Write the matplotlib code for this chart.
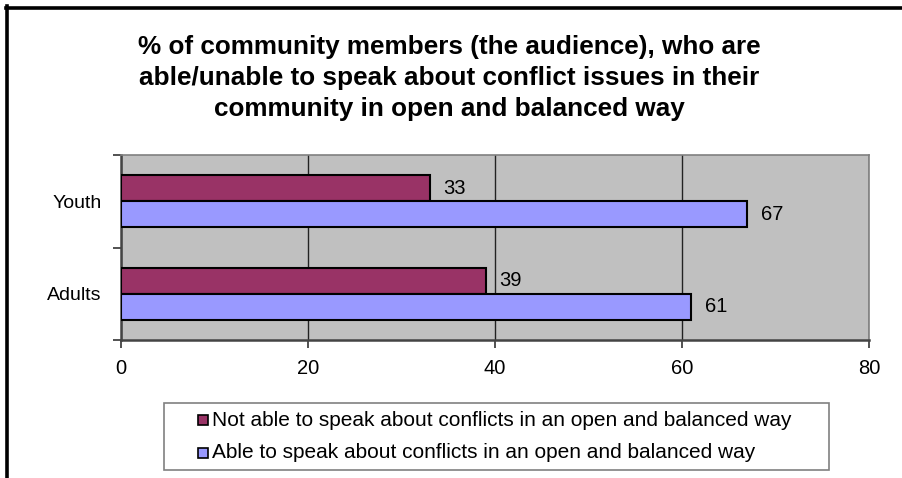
import matplotlib
matplotlib.use("Agg")
import matplotlib.pyplot as plt
from matplotlib.lines import Line2D
from matplotlib.patches import Rectangle
import numpy as np

plt.rcParams['font.family'] = ['Liberation Sans', 'DejaVu Sans']

categories = ["Adults", "Youth"]
not_able = [39, 33]
able = [61, 67]
series_labels = ["Not able to speak about conflicts in an open and balanced way",
                 "Able to speak about conflicts in an open and balanced way"]
x_ticks = [0, 20, 40, 60, 80]
title = ("% of community members (the audience), who are\n"
         "able/unable to speak about conflict issues in their\n"
         "community in open and balanced way")

red = "#993366"
blue = "#9999FF"

W, H = 902, 478
fig = plt.figure(figsize=(W / 100, H / 100), dpi=100)

def fx(px):
    return px / W

def fy(py):
    return 1 - py / H

ax = fig.add_axes([fx(121), fy(340), (869 - 121) / W, (340 - 155) / H])
ax.set_facecolor("#C0C0C0")

y = np.arange(len(categories))
bh = 0.28
b1 = ax.barh(y + bh / 2, not_able, height=bh, color=red, edgecolor="black", linewidth=1.5, zorder=3)
b2 = ax.barh(y - bh / 2, able, height=bh, color=blue, edgecolor="black", linewidth=1.5, zorder=3)

for bars, vals in ((b1, not_able), (b2, able)):
    for rect, v in zip(bars, vals):
        ax.annotate(f"{v}", (v, rect.get_y() + rect.get_height() / 2),
                    xytext=(9.5, 0), textcoords="offset points",
                    ha="left", va="center", fontsize=14.5, color="black")

ax.set_xlim(0, 80)
ax.set_ylim(-0.5, 1.5)
ax.set_xticks(x_ticks)
ax.set_xticklabels([str(t) for t in x_ticks], fontsize=14.5)
ax.set_yticks(y)
ax.set_yticklabels(categories, fontsize=14)
ax.set_yticks([-0.5, 0.5, 1.5], minor=True)
ax.tick_params(axis="y", which="major", length=0, pad=14)
ax.tick_params(axis="y", which="minor", length=6, width=1.2, color="#333333")
ax.tick_params(axis="x", length=6, width=1.2, color="#333333", pad=8)

ax.xaxis.grid(True, color="#222222", linewidth=1.0, zorder=1)
ax.set_axisbelow(True)
for side in ("left", "bottom"):
    ax.spines[side].set_color("#444444")
    ax.spines[side].set_linewidth(1.8)
for side in ("top", "right"):
    ax.spines[side].set_color("#808080")
    ax.spines[side].set_linewidth(1.2)

fig.text(fx(449), fy(78), title, ha="center", va="center",
         fontsize=18.8, fontweight="bold", linespacing=1.36)

# legend box with square keys
fig.add_artist(Rectangle((fx(164), fy(470)), (829 - 164) / W, (470 - 403) / H,
                         transform=fig.transFigure, facecolor="white",
                         edgecolor="#808080", linewidth=1.2))
for row_y, color, label in ((420, red, series_labels[0]), (453, blue, series_labels[1])):
    fig.add_artist(Rectangle((fx(198), fy(row_y + 5)), 10 / W, 10 / H,
                             transform=fig.transFigure, facecolor=color,
                             edgecolor="black", linewidth=1.2))
    fig.text(fx(212), fy(row_y), label, ha="left", va="center", fontsize=15)

# outer chart border (left and top edges)
fig.add_artist(Line2D([fx(7.5), fx(7.5)], [0, fy(6)], color="black", linewidth=2.6,
                      transform=fig.transFigure))
fig.add_artist(Line2D([fx(6), 1], [fy(7.5), fy(7.5)], color="black", linewidth=2.6,
                      transform=fig.transFigure))

fig.savefig("out.png", dpi=100)
